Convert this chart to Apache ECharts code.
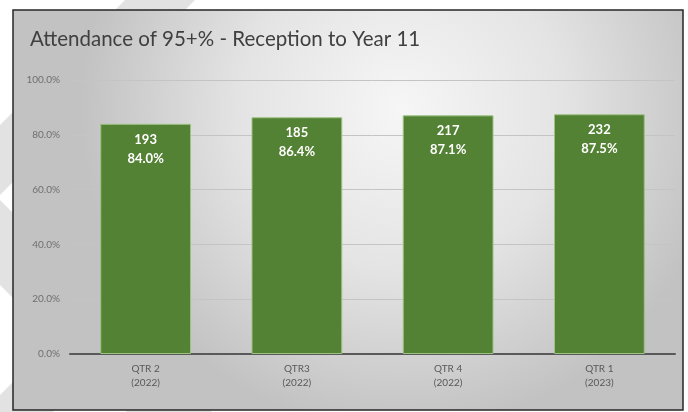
<!DOCTYPE html>
<html>
<head>
<meta charset="utf-8">
<style>
  html, body { margin: 0; padding: 0; background: #ffffff; }
  #chart { width: 688px; height: 412px; }
</style>
<script src="https://cdn.jsdelivr.net/npm/echarts@6/dist/echarts.min.js"></script>
</head>
<body>
<div id="chart"></div>
<script>
const titleText = 'Attendance of 95+% - Reception to Year 11';
const categories = ['QTR 2\n(2022)', 'QTR3\n(2022)', 'QTR 4\n(2022)', 'QTR 1\n(2023)'];
const percentages = [84.0, 86.4, 87.1, 87.5];
const counts = [193, 185, 217, 232];
const yMin = 0, yMax = 100, yInterval = 20;

const chart = echarts.init(document.getElementById('chart'), null, { renderer: 'canvas' });
const font = 'Lato, "Noto Sans", sans-serif';

chart.setOption({
  backgroundColor: '#ffffff',
  animation: false,
  title: {
    text: titleText,
    left: 25,
    top: 24,
    textStyle: { fontFamily: font, fontSize: 20.5, fontWeight: 'normal', color: '#404040' }
  },
  graphic: [
    { type: 'polygon', z: -20, silent: true,
      shape: { points: [[125,0],[195,0],[-2.5,197.5],[212,412],[127,412],[-80,205]] },
      style: { fill: '#e2e2e2' } },
    { type: 'polygon', z: -20, silent: true,
      shape: { points: [[145,250],[215,250],[0,465],[-70,465]] },
      style: { fill: '#e2e2e2' } },
    { type: 'rect', z: -10, silent: true,
      shape: { x: 13, y: 10, width: 670, height: 400 },
      style: {
        fill: { type: 'radial', x: 0.58, y: 0.25, r: 0.8,
          colorStops: [{ offset: 0, color: '#f6f6f6' }, { offset: 0.5, color: '#e4e4e4' }, { offset: 1, color: '#c2c2c2' }] },
        stroke: '#262626', lineWidth: 1.5
      } }
  ],
  grid: { left: 70, right: 13, top: 80, bottom: 58, containLabel: false },
  xAxis: {
    type: 'category',
    data: categories,
    axisLine: { show: true, lineStyle: { color: '#595959', width: 2 } },
    axisTick: { show: false },
    axisLabel: { fontFamily: font, fontSize: 10, color: '#595959', lineHeight: 14, margin: 8 }
  },
  yAxis: {
    type: 'value',
    min: yMin, max: yMax, interval: yInterval,
    axisLine: { show: false },
    axisTick: { show: false },
    splitLine: { lineStyle: { color: '#c4c4c4', width: 1 } },
    axisLabel: { fontFamily: font, fontSize: 10, color: '#6f6f6f', margin: 10,
      formatter: v => v.toFixed(1) + '%' }
  },
  series: [{
    type: 'bar',
    data: percentages,
    barCategoryGap: '40%',
    itemStyle: { color: '#548235', borderColor: '#9cc282', borderWidth: 1 },
    label: {
      show: true,
      position: 'insideTop',
      distance: 6,
      fontFamily: font,
      fontSize: 13,
      fontWeight: 'bold',
      color: '#ffffff',
      lineHeight: 19,
      formatter: p => counts[p.dataIndex] + '\n' + p.value.toFixed(1) + '%'
    }
  }]
});
</script>
</body>
</html>
